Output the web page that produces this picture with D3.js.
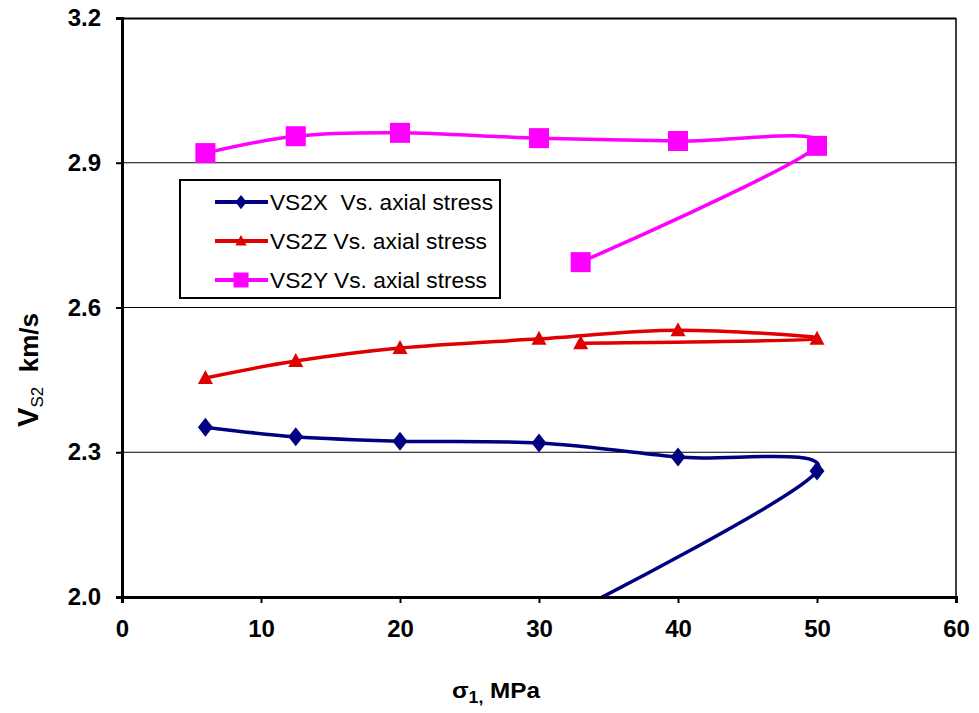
<!DOCTYPE html>
<html>
<head>
<meta charset="utf-8">
<script src="https://cdn.jsdelivr.net/npm/d3@7"></script>
<style>
  body { margin: 0; background: #fff; }
  svg { font-family: "Liberation Sans", Arial, sans-serif; }
</style>
</head>
<body>
<div id="chart"></div>
<script>
// data (stress in MPa, velocity in km/s)
const stress = [6, 12.5, 20, 30, 40, 50, 33];
const vs2x = [2.352, 2.332, 2.323, 2.319, 2.290, 2.261, 1.977];
const vs2z = [2.454, 2.489, 2.516, 2.535, 2.553, 2.535, 2.526];
const vs2y = [2.920, 2.955, 2.962, 2.951, 2.945, 2.935, 2.694];
const seriesNames = ["VS2X\u00a0 Vs. axial stress", "VS2Z Vs. axial stress", "VS2Y Vs. axial stress"];
const xTicks = [0, 10, 20, 30, 40, 50, 60];
const yTicks = [2.0, 2.3, 2.6, 2.9, 3.2];

const W = 979, H = 713;
const margin = { top: 18, right: 23, bottom: 116, left: 122 },
  width = W - margin.left - margin.right,
  height = H - margin.top - margin.bottom;

const svg = d3.select("#chart").append("svg")
  .attr("width", W)
  .attr("height", H);

const g = svg.append("g")
  .attr("transform", "translate(" + margin.left + "," + margin.top + ")");

const x = d3.scaleLinear().domain([0, 60]).range([0, width]);
const y = d3.scaleLinear().domain([2.0, 3.2]).range([height, 0]);

svg.append("defs").append("clipPath").attr("id", "plotclip")
  .append("rect").attr("width", width).attr("height", height);

// gridlines
g.selectAll(".grid")
  .data(yTicks.slice(1, -1))
  .enter().append("line")
    .attr("x1", 0).attr("x2", width)
    .attr("y1", d => y(d)).attr("y2", d => y(d))
    .attr("stroke", "#000").attr("stroke-width", 1);

// frame top/right
g.append("line").attr("x1", 0).attr("x2", width).attr("y1", 0.5).attr("y2", 0.5)
  .attr("stroke", "#000").attr("stroke-width", 2);
g.append("line").attr("x1", width).attr("x2", width).attr("y1", 0).attr("y2", height)
  .attr("stroke", "#000").attr("stroke-width", 1.5);

const series = [
  { name: seriesNames[0], values: vs2x, color: "#000080", symbol: "diamond" },
  { name: seriesNames[1], values: vs2z, color: "#e00000", symbol: "triangle" },
  { name: seriesNames[2], values: vs2y, color: "#ff00ff", symbol: "square" }
];

function marker(sel, s, k) {
  k = k || 1;
  if (s.symbol == "diamond") {
    sel.append("path").attr("d", "M0,-9.5L7.5,0L0,9.5L-7.5,0Z").attr("fill", s.color)
      .attr("transform", "scale(" + k + ")");
  } else if (s.symbol == "triangle") {
    sel.append("path").attr("d", "M0,-8L7.5,6L-7.5,6Z").attr("fill", s.color)
      .attr("transform", "scale(" + k + ")");
  } else {
    sel.append("rect").attr("x", -10).attr("y", -10).attr("width", 20).attr("height", 20).attr("fill", s.color)
      .attr("transform", "scale(" + k + ")");
  }
}

const line = d3.line()
  .x(d => x(d[0]))
  .y(d => y(d[1]))
  .curve(d3.curveCatmullRom.alpha(0));

const plot = g.append("g").attr("clip-path", "url(#plotclip)");

series.forEach(function (s) {
  const pts = stress.map((v, i) => [v, s.values[i]]);
  plot.append("path")
    .attr("d", line(pts))
    .attr("fill", "none")
    .attr("stroke", s.color)
    .attr("stroke-width", 3.5);
  pts.forEach(function (p) {
    const m = plot.append("g").attr("transform", "translate(" + x(p[0]) + "," + y(p[1]) + ")");
    marker(m, s);
  });
});

// axes
const yAxis = g.append("g")
  .call(d3.axisLeft(y).tickValues(yTicks).tickFormat(d3.format(".1f")).tickSize(6).tickPadding(15));
const xAxis = g.append("g")
  .attr("transform", "translate(0," + height + ")")
  .call(d3.axisBottom(x).tickValues(xTicks).tickSize(6).tickPadding(17));

[yAxis, xAxis].forEach(function (a) {
  a.select(".domain").attr("stroke", "#000").attr("stroke-width", 3);
  a.selectAll(".tick line").attr("stroke", "#000").attr("stroke-width", 2);
  a.selectAll(".tick text")
    .attr("fill", "#000")
    .style("font-size", "24px")
    .style("font-weight", "bold")
    .style("font-family", "'Liberation Sans', Arial, sans-serif");
});

// legend
const legend = svg.append("g").attr("transform", "translate(180,180)");
legend.append("rect")
  .attr("width", 320).attr("height", 118)
  .attr("fill", "#fff").attr("stroke", "#000").attr("stroke-width", 2);
series.forEach(function (s, i) {
  const row = legend.append("g").attr("transform", "translate(0," + (22 + i * 39) + ")");
  row.append("line").attr("x1", 35).attr("x2", 88).attr("stroke", s.color).attr("stroke-width", 4);
  const m = row.append("g").attr("transform", "translate(61,0)");
  marker(m, s, 0.75);
  row.append("text")
    .attr("x", 90).attr("y", 8)
    .style("font-size", "22px")
    .attr("fill", "#000")
    .attr("textLength", i == 0 ? 223 : 217)
    .attr("lengthAdjust", "spacingAndGlyphs")
    .text(s.name);
});

// x title
const xt = svg.append("text")
  .attr("x", 452).attr("y", 698)
  .style("font-size", "22px")
  .style("font-weight", "bold")
  .attr("textLength", 88)
  .attr("lengthAdjust", "spacingAndGlyphs")
  .attr("fill", "#000");
xt.append("tspan").text("σ");
xt.append("tspan").attr("dy", 5).style("font-size", "16px").text("1,");
xt.append("tspan").attr("dy", -5).text(" MPa");

// y title
const yt = svg.append("text")
  .attr("transform", "translate(38,370) rotate(-90)")
  .attr("text-anchor", "middle")
  .style("font-size", "26px")
  .style("font-weight", "bold")
  .attr("fill", "#000");
yt.append("tspan").style("font-size", "29px").text("V");
yt.append("tspan").attr("dy", 5).style("font-size", "17px").style("font-weight", "normal").text("S2");
yt.append("tspan").attr("dy", -5).text("\u00a0 km/s");
</script>
</body>
</html>
